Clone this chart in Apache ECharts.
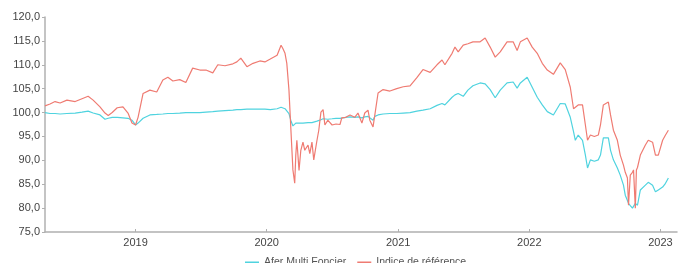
<!DOCTYPE html>
<html>
<head>
<meta charset="utf-8">
<script src="https://cdn.jsdelivr.net/npm/echarts@6/dist/echarts.min.js"></script>
<style>
  html, body { margin: 0; padding: 0; background: #fff; }
  #chart { width: 679px; height: 263px; }
</style>
</head>
<body>
<div id="chart"></div>
<script>
// dates
const dates = [
  '2018-04-24', '2018-05-08', '2018-05-22', '2018-06-05', '2018-06-24', '2018-07-17', '2018-08-05', '2018-08-22',
  '2018-09-05', '2018-09-24', '2018-10-08', '2018-10-17', '2018-10-28', '2018-11-11', '2018-11-27', '2018-12-11',
  '2018-12-22', '2019-01-01', '2019-01-08', '2019-01-22', '2019-02-10', '2019-03-01', '2019-03-18', '2019-04-01',
  '2019-04-15', '2019-05-04', '2019-05-21', '2019-06-09', '2019-06-29', '2019-07-16', '2019-08-04', '2019-08-18',
  '2019-09-07', '2019-09-29', '2019-10-10', '2019-10-21', '2019-11-07', '2019-11-24', '2019-12-13', '2019-12-27',
  '2020-01-11', '2020-01-30', '2020-02-10', '2020-02-15', '2020-02-21', '2020-02-26', '2020-03-03', '2020-03-08',
  '2020-03-14', '2020-03-19', '2020-03-22', '2020-03-25', '2020-03-31', '2020-04-05', '2020-04-11', '2020-04-16',
  '2020-04-25', '2020-04-30', '2020-05-06', '2020-05-11', '2020-05-20', '2020-05-25', '2020-05-31', '2020-06-06',
  '2020-06-11', '2020-06-19', '2020-07-01', '2020-07-12', '2020-07-23', '2020-07-28', '2020-08-08', '2020-08-20',
  '2020-09-02', '2020-09-11', '2020-09-22', '2020-09-30', '2020-10-09', '2020-10-14', '2020-10-23', '2020-10-28',
  '2020-11-06', '2020-11-20', '2020-12-09', '2020-12-28', '2021-01-15', '2021-02-03', '2021-02-22', '2021-03-11',
  '2021-03-31', '2021-04-19', '2021-05-03', '2021-05-11', '2021-05-31', '2021-06-08', '2021-06-17', '2021-07-01',
  '2021-07-14', '2021-07-28', '2021-08-17', '2021-08-31', '2021-09-14', '2021-09-28', '2021-10-12', '2021-10-31',
  '2021-11-17', '2021-11-28', '2021-12-07', '2021-12-26', '2022-01-09', '2022-01-23', '2022-02-06', '2022-02-20',
  '2022-03-09', '2022-03-28', '2022-04-11', '2022-04-25', '2022-05-04', '2022-05-09', '2022-05-17', '2022-05-29',
  '2022-06-06', '2022-06-12', '2022-06-20', '2022-07-01', '2022-07-12', '2022-07-18', '2022-07-26', '2022-08-09',
  '2022-08-15', '2022-08-23', '2022-09-03', '2022-09-11', '2022-09-20', '2022-09-25', '2022-10-01', '2022-10-04',
  '2022-10-09', '2022-10-15', '2022-10-18', '2022-10-23', '2022-10-26', '2022-10-29', '2022-11-06', '2022-11-20',
  '2022-11-28', '2022-12-10', '2022-12-18', '2022-12-26', '2023-01-07', '2023-01-15', '2023-01-23'
];

// Afer Multi Foncier
const aferValues = [
  100.0, 99.8, 99.8, 99.7, 99.8, 99.9, 100.1, 100.3,
  99.9, 99.5, 98.6, 98.8, 99.0, 99.0, 98.9, 98.8,
  98.4, 97.4, 97.8, 98.8, 99.5, 99.6, 99.7, 99.8,
  99.8, 99.9, 100.0, 100.0, 100.0, 100.1, 100.2, 100.3,
  100.4, 100.5, 100.6, 100.6, 100.7, 100.7, 100.7, 100.7,
  100.6, 100.8, 101.1, 101.0, 100.8, 100.5, 99.8, 98.4,
  97.2, 97.6, 97.8, 97.6, 97.8, 97.9, 97.8, 97.8,
  97.9, 97.8, 97.9, 98.0, 98.2, 98.4, 98.5, 98.7,
  98.7, 98.6, 98.7, 98.8, 98.8, 98.9, 99.0, 99.1,
  99.0, 99.1, 98.9, 99.1, 99.2, 99.0, 98.4, 99.2,
  99.5, 99.7, 99.8, 99.8, 99.9, 100.0, 100.3, 100.5,
  100.8, 101.5, 101.9, 101.6, 103.2, 103.7, 104.0, 103.4,
  104.7, 105.6, 106.2, 106.0, 104.8, 103.1, 104.7, 106.2,
  106.4, 105.1, 106.2, 107.4, 105.3, 103.2, 101.6, 100.2,
  99.5, 101.9, 101.8, 99.0, 96.0, 94.2, 95.3, 94.2,
  91.1, 88.4, 90.1, 89.8, 90.1, 91.1, 94.7, 94.7,
  92.1, 90.1, 88.4, 86.9, 84.8, 82.7, 81.6, 81.0,
  80.5, 80.0, 80.3, 81.0, 80.8, 80.6, 83.8, 84.8,
  85.4, 84.8, 83.4, 83.8, 84.4, 85.2, 86.3
];

// Indice de référence
const indiceValues = [
  101.4, 101.8, 102.3, 102.0, 102.6, 102.3, 102.9, 103.4,
  102.6, 101.2, 99.9, 99.4, 100.0, 101.0, 101.2, 99.9,
  97.8, 97.4, 99.0, 104.0, 104.7, 104.3, 106.8, 107.4,
  106.6, 106.9, 106.3, 109.3, 108.9, 108.9, 108.3, 110.0,
  109.8, 110.2, 110.6, 111.4, 109.6, 110.3, 110.8, 110.6,
  111.2, 112.0, 114.1, 113.4, 112.4, 110.3, 104.7, 97.0,
  88.0, 85.2, 91.1, 94.2, 87.9, 92.1, 93.8, 92.1,
  93.2, 91.4, 93.8, 90.1, 94.2, 96.3, 100.1, 100.6,
  97.4, 98.4, 97.4, 97.6, 97.5, 98.9, 99.0, 99.5,
  99.0, 99.9, 97.8, 99.9, 100.5, 98.4, 97.0, 99.5,
  104.1, 104.8, 104.5, 105.0, 105.4, 105.6, 107.3, 109.0,
  108.4, 110.0, 111.0, 110.0, 112.4, 113.7, 112.7, 114.1,
  114.4, 114.8, 114.8, 115.6, 113.7, 111.6, 112.7, 114.8,
  114.8, 113.0, 114.8, 115.6, 113.7, 112.4, 110.3, 108.9,
  108.0, 110.4, 109.0, 105.3, 100.8, 101.0, 101.6, 101.6,
  97.4, 94.2, 95.3, 95.0, 95.3, 97.4, 101.6, 102.2,
  99.5, 96.3, 94.2, 91.1, 89.0, 87.5, 86.3, 80.6,
  86.9, 87.5, 88.0, 80.0, 88.0, 88.5, 91.1, 93.2,
  94.2, 93.8, 91.1, 91.1, 94.2, 95.3, 96.3
];

const yearLabels = ['2019-01-01', '2020-01-01', '2021-01-01', '2022-01-01', '2023-01-01'];

const toTime = s => {
  const p = s.split('-')
  return Date.UTC(+p[0], +p[1] - 1, +p[2])
}

const yearTicks = yearLabels.map(toTime)

const chart = echarts.init(document.getElementById('chart'), null, { renderer: 'canvas' })

const option = {
  animation: false,
  grid: {
    left: 45,
    right: 2,
    top: 17,
    bottom: 31
  },
  legend: {
    bottom: -10,
    left: 240,
    itemWidth: 14,
    itemHeight: 2,
    itemGap: 11,
    icon: 'rect',
    textStyle: {
      fontFamily: 'Liberation Sans, Arial, sans-serif',
      fontSize: 10.5,
      color: '#555'
    },
    data: ['Afer Multi Foncier', 'Indice de référence']
  },
  xAxis: {
    type: 'value',
    min: toTime('2018-04-24'),
    max: toTime('2023-02-16'),
    axisLine: {
      lineStyle: { color: '#b0b0b0', width: 1.5 }
    },
    axisTick: {
      show: true,
      inside: true,
      length: 3,
      customValues: yearTicks,
      lineStyle: { color: '#b0b0b0' }
    },
    axisLabel: {
      customValues: yearTicks,
      formatter: v => String(new Date(v).getUTCFullYear()),
      color: '#444',
      fontFamily: 'Liberation Sans, Arial, sans-serif',
      fontSize: 11,
      margin: 5
    },
    splitLine: { show: false }
  },
  yAxis: {
    type: 'value',
    min: 75,
    max: 120,
    interval: 5,
    axisLine: {
      show: true,
      lineStyle: { color: '#b0b0b0', width: 1.5 }
    },
    axisTick: {
      show: true,
      length: 3,
      lineStyle: { color: '#b0b0b0' }
    },
    axisLabel: {
      formatter: v => v.toFixed(1).replace('.', ','),
      color: '#444',
      fontFamily: 'Liberation Sans, Arial, sans-serif',
      fontSize: 11,
      margin: 5
    },
    splitLine: { show: false }
  },
  series: [
    {
      name: 'Afer Multi Foncier',
      type: 'line',
      showSymbol: false,
      data: dates.map((d, i) => [toTime(d), aferValues[i]]),
      lineStyle: { color: '#4fd3df', width: 1.2 },
      itemStyle: { color: '#4fd3df' }
    },
    {
      name: 'Indice de référence',
      type: 'line',
      showSymbol: false,
      data: dates.map((d, i) => [toTime(d), indiceValues[i]]),
      lineStyle: { color: '#ef7b72', width: 1.2 },
      itemStyle: { color: '#ef7b72' }
    }
  ]
}

chart.setOption(option)
</script>
</body>
</html>
